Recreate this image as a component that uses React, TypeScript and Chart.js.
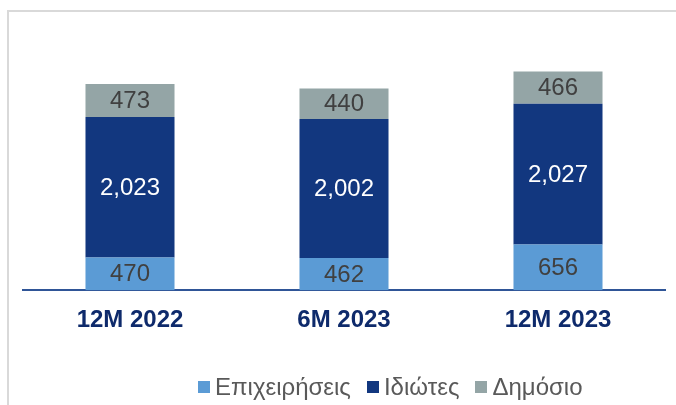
import React, { useEffect, useRef } from "react";
import { Chart, registerables } from "chart.js";

Chart.register(...registerables);

const categories = ["12M 2022", "6M 2023", "12M 2023"];
const business = [470, 462, 656];
const individuals = [2023, 2002, 2027];
const publicSector = [473, 440, 466];
const seriesNames = ["Επιχειρήσεις", "Ιδιώτες", "Δημόσιο"];
const seriesColors = ["#5b9bd5", "#12377f", "#94a5a6"];
const labelColors = ["#404040", "#ffffff", "#404040"];

const FONT = "Arial, 'Liberation Sans', sans-serif";

const valueLabels = {
  id: "valueLabels",
  afterDatasetsDraw(chart: any) {
    const ctx = chart.ctx;
    ctx.save();
    ctx.font = `24px ${FONT}`;
    ctx.textAlign = "center";
    ctx.textBaseline = "middle";
    chart.data.datasets.forEach((ds: any, i: number) => {
      const meta = chart.getDatasetMeta(i);
      meta.data.forEach((el: any, j: number) => {
        const v = ds.data[j];
        ctx.fillStyle = labelColors[i];
        ctx.fillText(v.toLocaleString("en-US"), el.x, (el.y + el.base) / 2 + 1);
      });
    });
    ctx.restore();
  },
};

export default function App() {
  const ref = useRef<HTMLCanvasElement>(null);
  useEffect(() => {
    if (!ref.current) return;
    const chart = new Chart(ref.current, {
      type: "bar",
      data: {
        labels: categories,
        datasets: [
          { label: seriesNames[0], data: business, backgroundColor: seriesColors[0] },
          { label: seriesNames[1], data: individuals, backgroundColor: seriesColors[1] },
          { label: seriesNames[2], data: publicSector, backgroundColor: seriesColors[2] },
        ],
      },
      options: {
        animation: false,
        responsive: false,
        maintainAspectRatio: false,
        layout: { padding: { left: 23, right: 11, top: 47, bottom: 54 } },
        datasets: { bar: { categoryPercentage: 1, barPercentage: 0.416 } } as any,
        scales: {
          x: {
            stacked: true,
            grid: { display: false, drawTicks: false },
            border: { display: true, color: "#2f5597", width: 2 },
            ticks: {
              padding: 16,
              color: "#0e2a6b",
              font: { family: FONT, size: 24, weight: "bold" },
            },
          },
          y: {
            stacked: true,
            display: false,
            min: 0,
            max: 3500,
          },
        },
        plugins: {
          tooltip: { enabled: false },
          legend: { display: false },
        },
      },
      plugins: [valueLabels],
    });
    return () => chart.destroy();
  }, []);
  return (
    <div style={{ position: "absolute", left: 0, top: 0, width: 676, height: 405, background: "#fff", overflow: "hidden" }}>
      <div
        style={{
          position: "absolute",
          left: 7,
          top: 10,
          width: 669,
          height: 395,
          borderTop: "2px solid #d9d9d9",
          borderLeft: "2px solid #d9d9d9",
          boxSizing: "border-box",
        }}
      />
      <canvas ref={ref} width={676} height={405} style={{ position: "absolute", left: 0, top: 0 }} />
      <div
        style={{
          position: "absolute",
          left: 198,
          top: 375,
          height: 24,
          display: "flex",
          alignItems: "center",
          fontFamily: FONT,
          fontSize: 24,
          lineHeight: "24px",
          color: "#595959",
          whiteSpace: "nowrap",
        }}
      >
        {seriesNames.map((name, i) => (
          <div key={name} style={{ display: "flex", alignItems: "center", marginRight: i < seriesNames.length - 1 ? 16 : 0 }}>
            <span style={{ display: "inline-block", width: 12, height: 12, background: seriesColors[i], marginRight: 5 }} />
            <span>{name}</span>
          </div>
        ))}
      </div>
    </div>
  );
}
